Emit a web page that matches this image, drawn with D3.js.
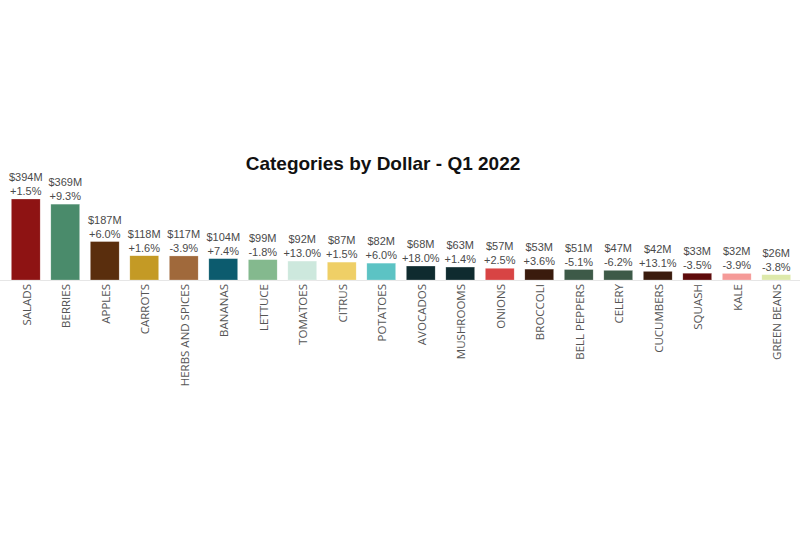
<!DOCTYPE html>
<html>
<head>
<meta charset="utf-8">
<script src="https://cdn.jsdelivr.net/npm/d3@7"></script>
<style>
  body { margin: 0; background: #fff; }
  svg { display: block; }
</style>
</head>
<body>
<div id="chart"></div>
<script>
var categories = ["SALADS", "BERRIES", "APPLES", "CARROTS", "HERBS AND SPICES", "BANANAS", "LETTUCE",
    "TOMATOES", "CITRUS", "POTATOES", "AVOCADOS", "MUSHROOMS", "ONIONS", "BROCCOLI", "BELL PEPPERS",
    "CELERY", "CUCUMBERS", "SQUASH", "KALE", "GREEN BEANS"];
var dollars = [394, 369, 187, 118, 117, 104, 99, 92, 87, 82, 68, 63, 57, 53, 51, 47, 42, 33, 32, 26];
var changes = ["+1.5%", "+9.3%", "+6.0%", "+1.6%", "-3.9%", "+7.4%", "-1.8%", "+13.0%", "+1.5%", "+6.0%",
    "+18.0%", "+1.4%", "+2.5%", "+3.6%", "-5.1%", "-6.2%", "+13.1%", "-3.5%", "-3.9%", "-3.8%"];
var colors = ["#8e1313", "#4a8b6b", "#5a2e0d", "#c49a25", "#a0693b", "#0c5b6e", "#84b98e", "#cde8dd",
    "#efcf66", "#5cc3c4", "#0f2b2f", "#0f2b2f", "#d84444", "#3a1b0d", "#3d5a48", "#3d5a48",
    "#3a1b0d", "#5e0b0b", "#f59a98", "#dde9aa"];

var width = 800, height = 534;
var baseY = 280;

var data = categories.map((c, i) => ({cat: c, val: dollars[i], chg: changes[i], color: colors[i]}));

var svg = d3.select("#chart").append("svg")
    .attr("width", width)
    .attr("height", height);

var x = d3.scaleBand()
    .domain(categories)
    .range([6, 796])
    .paddingInner(0.27)
    .paddingOuter(0.135);

var y = d3.scaleLinear()
    .domain([0, 394])
    .range([baseY, 199]);

// title
svg.append("text")
    .attr("x", 383)
    .attr("y", 170)
    .attr("text-anchor", "middle")
    .style("font-family", "'Liberation Sans', Arial, sans-serif")
    .style("font-weight", "bold")
    .style("font-size", "19px")
    .attr("fill", "#111")
    .text("Categories by Dollar - Q1 2022");

// baseline
svg.append("line")
    .attr("x1", 0)
    .attr("x2", width)
    .attr("y1", baseY + 0.5)
    .attr("y2", baseY + 0.5)
    .attr("stroke", "#e6e6e6");

var bar = svg.selectAll(".bar")
    .data(data)
    .enter().append("g")
    .attr("class", "bar");

bar.append("rect")
    .attr("x", d => x(d.cat))
    .attr("y", d => y(d.val))
    .attr("width", x.bandwidth())
    .attr("height", d => baseY - y(d.val))
    .attr("fill", d => d.color)
    .attr("stroke", "#fff")
    .attr("stroke-opacity", 0.5)
    .attr("stroke-width", 0.5);

bar.append("text")
    .attr("x", d => x(d.cat) + x.bandwidth() / 2)
    .attr("y", d => y(d.val) - 18)
    .attr("text-anchor", "middle")
    .style("font-family", "'Liberation Sans', Arial, sans-serif")
    .style("font-size", "11px")
    .attr("fill", "#4a4a4a")
    .text(d => "$" + d.val + "M");

bar.append("text")
    .attr("x", d => x(d.cat) + x.bandwidth() / 2)
    .attr("y", d => y(d.val) - 4)
    .attr("text-anchor", "middle")
    .style("font-family", "'Liberation Sans', Arial, sans-serif")
    .style("font-size", "11px")
    .attr("fill", "#4a4a4a")
    .text(d => d.chg);

// category axis
var axis = svg.append("g")
    .attr("transform", "translate(0," + baseY + ")")
    .call(d3.axisBottom(x).tickSize(0).tickPadding(0));
axis.select(".domain").remove();
axis.selectAll("text")
    .attr("transform", "rotate(-90)")
    .attr("x", -4)
    .attr("y", 1)
    .attr("dy", "0.35em")
    .attr("text-anchor", "end")
    .style("font-family", "'Open Sans', sans-serif")
    .style("font-size", "11.5px")
    .attr("fill", "#555");
</script>
</body>
</html>
